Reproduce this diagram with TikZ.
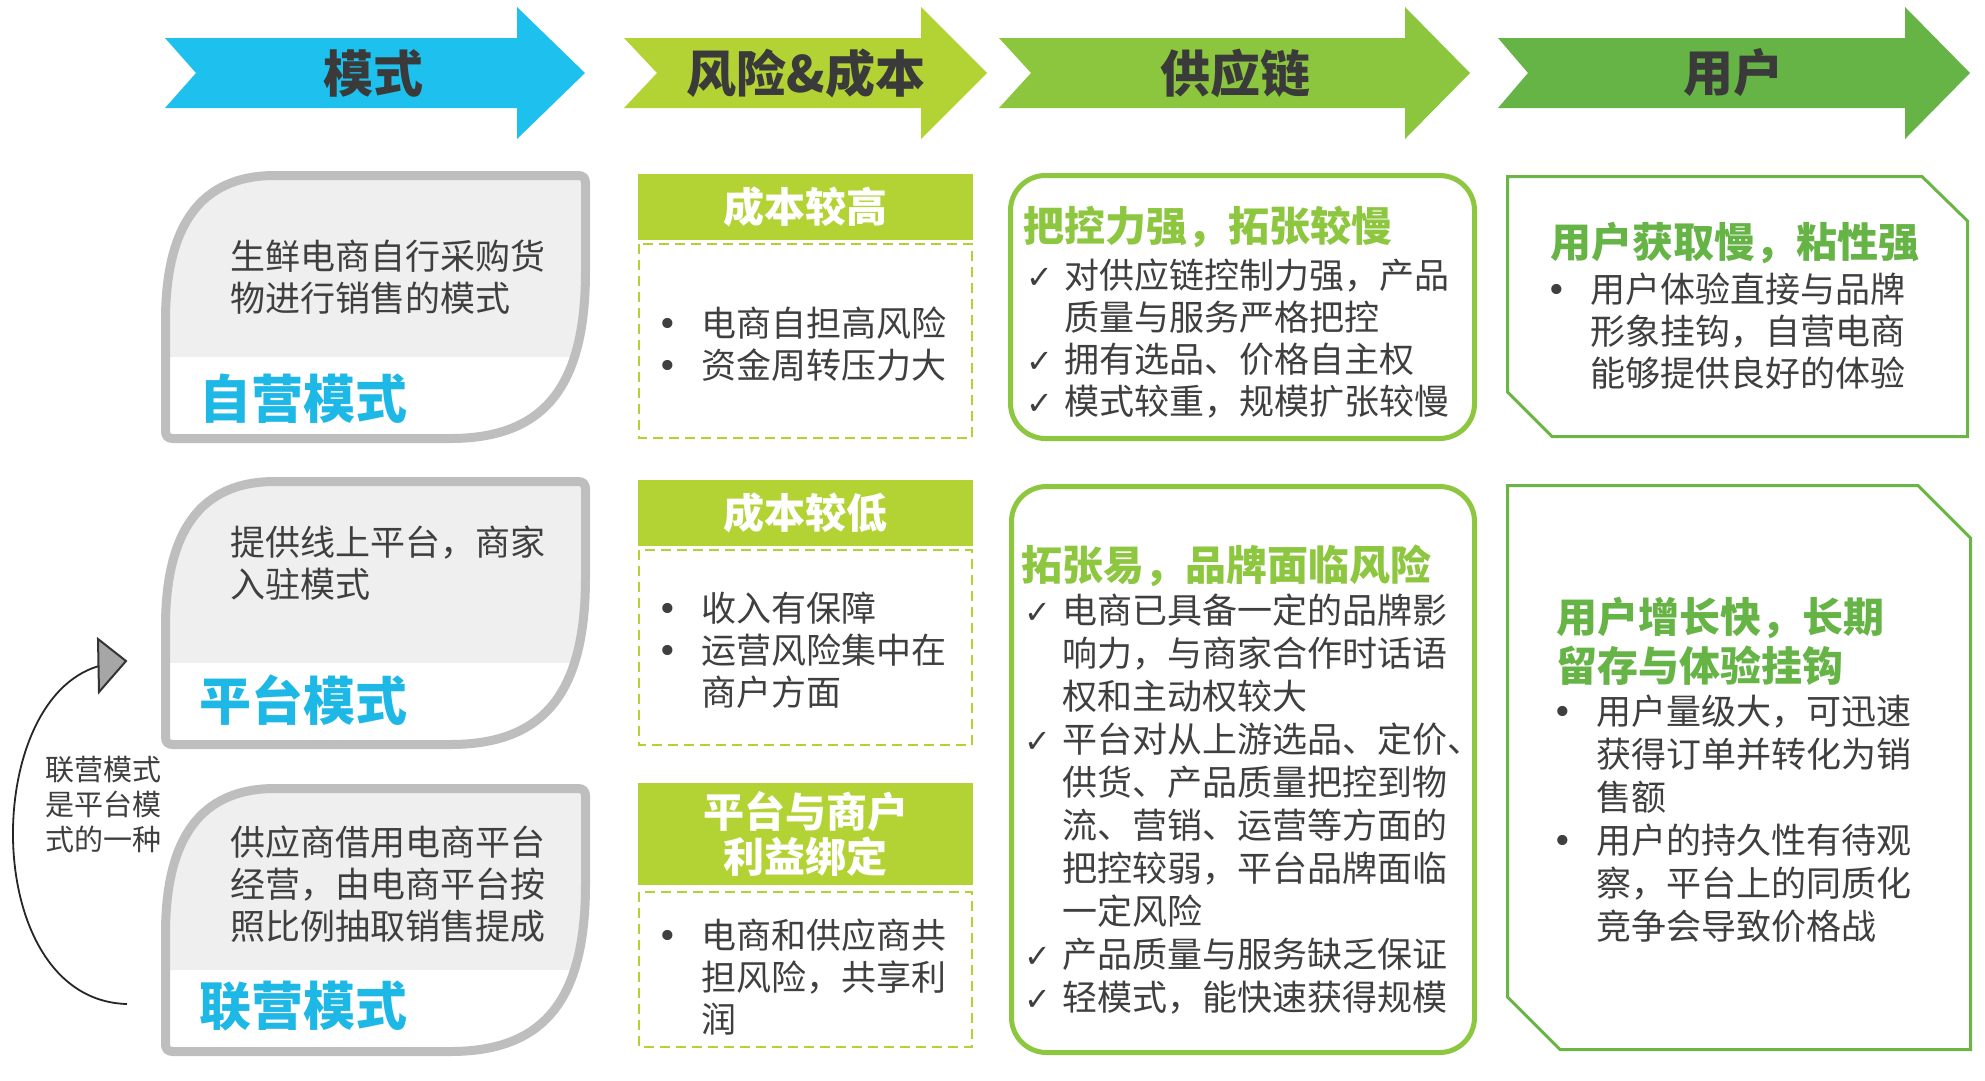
\documentclass[tikz,border=0pt]{standalone}
\usepackage{fontspec}
\setmainfont{Noto Sans CJK SC}
\newfontfamily\symfont{DejaVu Sans}
\definecolor{aone}{HTML}{1EC1EE}
\definecolor{atwo}{HTML}{B3D335}
\definecolor{athree}{HTML}{8CC63F}
\definecolor{afour}{HTML}{66B346}
\definecolor{hdrtxt}{HTML}{3A3A3A}
\definecolor{bodytxt}{HTML}{3F3F3F}
\definecolor{modeblue}{HTML}{1DB8E6}
\definecolor{boxgray}{HTML}{BEBEBE}
\definecolor{boxfill}{HTML}{EFEFF0}
\definecolor{costgreen}{HTML}{B3D335}
\definecolor{supgreen}{HTML}{8DC63F}
\definecolor{usergreen}{HTML}{6AB545}
\newcommand\bu{\makebox[35pt][l]{\hspace{-9pt}{\symfont •}}}
\newcommand\ck{\makebox[37pt][l]{\hspace{-1pt}\symfont\fontsize{32}{32}\selectfont ✓}}
\newcommand\hdrarrow[5]{\fill[#5] (#1,38) -- (#3,38) -- (#3,7) -- (#4,73) -- (#3,139) -- (#3,108) -- (#1,108) -- (#2,73) -- cycle;}
\newcommand\leafpath{(165.5,150) .. controls (165.5,55) and (200,4.5) .. (275,4.5) -- (578,4.5) .. controls (583,4.5) and (585.5,7) .. (585.5,12) -- (585.5,100) .. controls (585.5,215) and (545,267.5) .. (450,267.5) -- (173,267.5) .. controls (168,267.5) and (165.5,265) .. (165.5,260) -- cycle}
\newcommand\leafbox[1]{%
 \begin{scope}[shift={(0,#1)}]
  \fill[white] \leafpath;
  \begin{scope}\clip \leafpath; \fill[boxfill] (150,0) rectangle (600,186);\end{scope}
  \draw[line width=9, boxgray] \leafpath;
 \end{scope}}
\begin{document}
\begin{tikzpicture}[x=1pt,y=-1pt,
  hdr/.style={font=\fontsize{50}{55}\selectfont\bfseries, text=hdrtxt, inner sep=0},
  body/.style={font=\fontsize{35}{42}\selectfont, text=bodytxt, inner sep=0, anchor=base west},
  bodyb/.style={font=\fontsize{35}{43}\selectfont, text=bodytxt, inner sep=0, anchor=base west},
  gtitle/.style={font=\fontsize{41}{45}\selectfont\bfseries, inner sep=0, anchor=west},
  modetitle/.style={font=\fontsize{52}{56}\selectfont\bfseries, text=modeblue, inner sep=0, anchor=west},
  costhdr/.style={fill=costgreen, text=white, font=\fontsize{41}{45}\selectfont\bfseries, minimum width=335, inner sep=0, align=center},
  dashbox/.style={draw=costgreen, line width=2, dash pattern=on 10pt off 6pt},
  supbox/.style={draw=supgreen, line width=5, rounded corners=35},
  userbox/.style={draw=usergreen, line width=3, line join=miter},
  sidetxt/.style={font=\fontsize{29}{35}\selectfont, text=bodytxt, inner sep=0, anchor=base west}
]
\useasboundingbox (0,0) rectangle (1985,1080);
\fill[white] (0,0) rectangle (1985,1080);

% header arrows
\hdrarrow{165}{196}{517}{585}{aone}
\hdrarrow{624}{657}{921}{987}{atwo}
\hdrarrow{999}{1031}{1405}{1470}{athree}
\hdrarrow{1498}{1528}{1905}{1970}{afour}
\node[hdr] (h1) at (373,73) {模式};
\node[hdr] (h2) at (806,73) {风险\&成本};
\node[hdr] (h3) at (1235,73) {供应链};
\node[hdr] (h4) at (1733,73) {用户};

% left column
\leafbox{171}
\leafbox{477}
\leafbox{784}
\node[body] (d1) at (230,269) {\begin{tabular}[t]{@{}l@{}}生鲜电商自行采购货\\物进行销售的模式\end{tabular}};
\node[modetitle] (m1) at (199,399) {自营模式};
\node[body] (d2) at (230,555) {\begin{tabular}[t]{@{}l@{}}提供线上平台，商家\\入驻模式\end{tabular}};
\node[modetitle] (m2) at (199,700) {平台模式};
\node[body] (d3) at (230,855) {\begin{tabular}[t]{@{}l@{}}供应商借用电商平台\\经营，由电商平台按\\照比例抽取销售提成\end{tabular}};
\node[modetitle] (m3) at (199,1006) {联营模式};

% side note and curved arrow
\node[sidetxt] (side) at (45,780) {\begin{tabular}[t]{@{}l@{}}联营模式\\是平台模\\式的一种\end{tabular}};
\coordinate (cstart) at (127,1004);
\coordinate (cend) at (99,666);
\draw[line width=1.8, black!85] (cstart) .. controls (-20,1000) and (-20,700) .. (cend);
\draw[fill=black!35, draw=black!80, line width=2, line join=miter] (98,639) -- (126,661) -- (99,692) -- cycle;

% middle column
\node[costhdr, minimum height=66] (c1) at (805.5,207) {成本较高};
\draw[dashbox] (639,244) rectangle (972,438);
\node[body] (c1t) at (666,336) {\begin{tabular}[t]{@{}l@{}l@{}}\bu&电商自担高风险\\\bu&资金周转压力大\end{tabular}};
\node[costhdr, minimum height=66] (c2) at (805.5,513) {成本较低};
\draw[dashbox] (639,550) rectangle (972,745);
\node[body] (c2t) at (666,621) {\begin{tabular}[t]{@{}l@{}l@{}}\bu&收入有保障\\\bu&运营风险集中在\\&商户方面\end{tabular}};
\node[costhdr, minimum height=102, font=\fontsize{41}{45}\selectfont\bfseries] (c3) at (805.5,834) {平台与商户\\利益绑定};
\draw[dashbox] (639,892) rectangle (972,1047);
\node[body] (c3t) at (666,948) {\begin{tabular}[t]{@{}l@{}l@{}}\bu&电商和供应商共\\&担风险，共享利\\&润\end{tabular}};

% supply chain column
\draw[supbox] (1010.5,175.5) rectangle (1474.5,438.5);
\node[gtitle, text=supgreen] (s1) at (1023,227) {把控力强，拓张较慢};
\node[body] (s1t) at (1027,288) {\begin{tabular}[t]{@{}l@{}l@{}}\ck&对供应链控制力强，产品\\&质量与服务严格把控\\\ck&拥有选品、价格自主权\\\ck&模式较重，规模扩张较慢\end{tabular}};
\draw[supbox] (1011.5,486.5) rectangle (1474.5,1052.5);
\node[gtitle, text=supgreen] (s2) at (1021,566) {拓张易，品牌面临风险};
\node[bodyb] (s2t) at (1025,623) {\begin{tabular}[t]{@{}l@{}l@{}}\ck&电商已具备一定的品牌影\\&响力，与商家合作时话语\\&权和主动权较大\\\ck&平台对从上游选品、定价、\\&供货、产品质量把控到物\\&流、营销、运营等方面的\\&把控较弱，平台品牌面临\\&一定风险\\\ck&产品质量与服务缺乏保证\\\ck&轻模式，能快速获得规模\end{tabular}};

% user column
\draw[userbox] (1507.5,176.5) -- (1922,176.5) -- (1967.5,221) -- (1967.5,436.5) -- (1552,436.5) -- (1507.5,392) -- cycle;
\node[gtitle, text=afour] (u1) at (1550,243) {用户获取慢，粘性强};
\node[body] (u1t) at (1555,302) {\begin{tabular}[t]{@{}l@{}l@{}}\bu&用户体验直接与品牌\\&形象挂钩，自营电商\\&能够提供良好的体验\end{tabular}};
\draw[userbox] (1507.5,485.5) -- (1918,485.5) -- (1970.5,538) -- (1970.5,1049.5) -- (1560,1049.5) -- (1507.5,997) -- cycle;
\node[gtitle, text=afour, anchor=base west] (u2) at (1556,632) {\begin{tabular}[t]{@{}l@{}}用户增长快，长期\\留存与体验挂钩\end{tabular}};
\node[bodyb] (u2t) at (1561,724) {\begin{tabular}[t]{@{}l@{}l@{}}\bu&用户量级大，可迅速\\&获得订单并转化为销\\&售额\\\bu&用户的持久性有待观\\&察，平台上的同质化\\&竞争会导致价格战\end{tabular}};
\end{tikzpicture}
\end{document}
